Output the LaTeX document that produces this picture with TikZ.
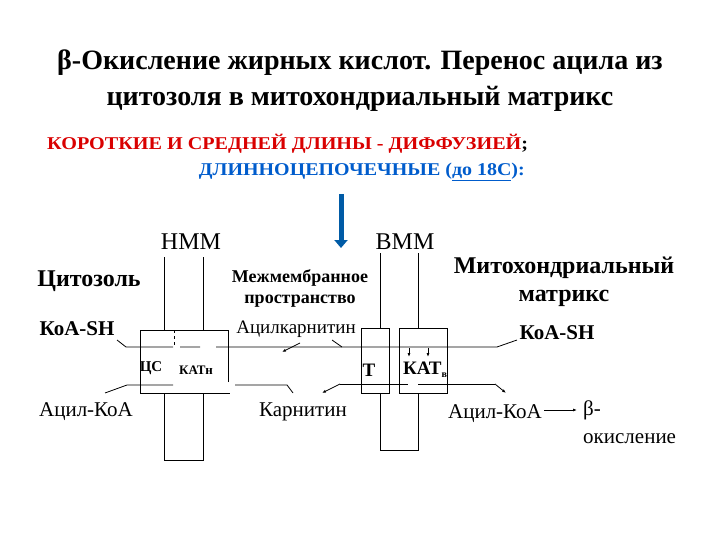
\documentclass[tikz,border=0pt]{standalone}
\usepackage{fontspec}
\setmainfont{Liberation Serif}
\usetikzlibrary{arrows.meta}
\begin{document}
\begin{tikzpicture}[x=1pt,y=-1pt,
  ln/.style={line width=0.8pt},
  ar/.style={line width=0.8pt,-{Latex[length=4pt,width=3pt]}},
  lab/.style={inner sep=0pt},
  bl/.style={inner sep=0pt,font=\bfseries}]
\useasboundingbox (0,0) rectangle (720,540);
% titles
\node[bl,font=\fontsize{28}{32}\selectfont\bfseries] (t1) at (360,63) {β-Окисление жирных кислот. Перенос ацила из};
\node[bl,font=\fontsize{28}{32}\selectfont\bfseries] (t2) at (360,99) {цитозоля в митохондриальный матрикс};
\node[bl,anchor=west,font=\fontsize{18}{20}\selectfont\bfseries,text=red!85!black] (r) at (47,144) {\scalebox{1.12}[1]{КОРОТКИЕ И СРЕДНЕЙ ДЛИНЫ - ДИФФУЗИЕЙ\textcolor{black}{;}}};
\node[bl,anchor=east,font=\fontsize{18}{20}\selectfont\bfseries,text=blue!55!cyan!80!black] (b) at (525,172) {\scalebox{1.11}[1]{ДЛИННОЦЕПОЧЕЧНЫЕ (\underline{до 18С}):}};
\coordinate (ba) at (341,194); \coordinate (bb) at (341,248);
\draw[line width=5pt,color=blue!45!cyan!65!black,-{Triangle[length=8pt,width=13pt]}] (ba) -- (bb);
% outer membrane
\draw[ln] (164,257) -- (164,330) (203,257) -- (203,330);
\draw[ln] (228,382) -- (228,330) -- (140,330) -- (140,393) -- (230,393);
\draw[ln,dashed] (174,330) -- (174,347);
\draw[ln] (164,393) -- (164,460) -- (203,460) -- (203,393);
% inner membrane
\draw[ln] (380,253) -- (380,328) (418,253) -- (418,328);
\draw[ln] (361,328) rectangle (389,393);
\draw[ln] (399,328) rectangle (447,393);
\draw[ln] (380,393) -- (380,450) -- (418,450) -- (418,393);
% labels
\node[lab,font=\fontsize{24}{26}\selectfont] (nmm) at (191,242) {НММ};
\node[lab,font=\fontsize{24}{26}\selectfont] (vmm) at (405,242) {ВММ};
\node[bl,font=\fontsize{24}{26}\selectfont\bfseries] (cyt) at (89,281) {Цитозоль};
\node[bl,font=\fontsize{18}{21}\selectfont\bfseries,align=center] (mms) at (300,288) {Межмембранное\\пространство};
\node[bl,font=\fontsize{24}{28}\selectfont\bfseries,align=center] (mm) at (564,282) {Митохондриальный\\матрикс};
\node[bl,font=\fontsize{21}{23}\selectfont\bfseries] (k1) at (77,329) {КоА-SH};
\node[bl,font=\fontsize{21}{23}\selectfont\bfseries] (k2) at (557,333) {КоА-SH};
\node[lab,font=\fontsize{19}{21}\selectfont] (ac) at (296,329) {Ацилкарнитин};
\node[bl,font=\fontsize{15}{17}\selectfont\bfseries] (cs) at (151,368) {ЦС};
\node[bl,font=\fontsize{13}{15}\selectfont\bfseries] (katn) at (196,370) {КАТн};
\node[bl,font=\fontsize{19}{21}\selectfont\bfseries] (T) at (369,370) {Т};
\node[bl,font=\fontsize{19}{21}\selectfont\bfseries] (katv) at (425,370) {КАТ\raisebox{-3pt}{\fontsize{10}{11}\selectfont в}};
\node[lab,font=\fontsize{21}{23}\selectfont] (a1) at (86,412) {Ацил-КоА};
\node[lab,font=\fontsize{21}{23}\selectfont] (kar) at (303,412) {Карнитин};
\node[lab,font=\fontsize{21}{23}\selectfont] (a2) at (495,414) {Ацил-КоА};
\node[lab,font=\fontsize{21}{23}\selectfont,anchor=west] (beta) at (583,410) {β-};
\node[lab,font=\fontsize{21}{23}\selectfont,anchor=west] (ok) at (583,439) {окисление};
% upper flow line
\draw[ln] (117,340) -- (126,347) -- (173,347) (180,347) -- (200,347) (216,347) -- (360,347);
\draw[ln] (332,340) -- (342,347);
\draw[ar] (300,343) -- (282,352);
\draw[ln] (360,347) -- (497,347) -- (517,340);
\draw[ar] (409,348) -- (409,357);
\draw[ar] (428,348) -- (428,357);
% lower flow line
\draw[ln] (105,393) -- (127,385) -- (173,385) (235,385) -- (287,385) -- (293,393);
\draw[ar] (340,384) -- (322,393);
\draw[ln] (340,384) -- (408,384) (418,384) -- (495,384);
\draw[ar] (495,384) -- (506,393);
\draw[ar] (544,410) -- (577,410);
\end{tikzpicture}
\end{document}
